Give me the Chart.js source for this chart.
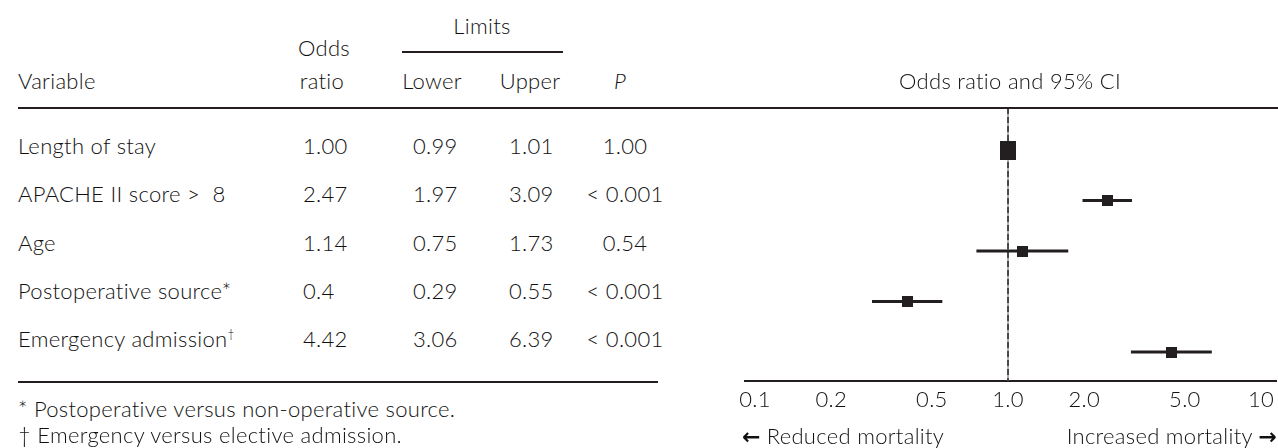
<!DOCTYPE html>
<html>
<head>
<meta charset="utf-8">
<script src="https://cdn.jsdelivr.net/npm/chart.js@4/dist/chart.umd.min.js"></script>
<style>
  html, body { margin:0; padding:0; background:#fff; }
  body { width:1278px; height:448px; position:relative; overflow:hidden;
         font-family: Lato, "Noto Sans", sans-serif; font-size:22px; font-weight:300;
         letter-spacing:0.3px; color:#111; }
  .t { position:absolute; line-height:24px; height:24px; white-space:nowrap; }
  .c { transform: translateX(-50%); }
  .hl { position:absolute; height:2px; background:#231f20; }
  .arr { font-family:"DejaVu Sans", sans-serif; font-weight:bold; font-size:22px; letter-spacing:0; }
  sup { font-size:12px; vertical-align: 9px; line-height:0; }
  #c { position:absolute; left:720px; top:0; }
</style>
</head>
<body>
<canvas id="c" width="563" height="448"></canvas>
<script>
// ---- data ----
const variables   = ["Length of stay", "APACHE II score >\u00a0 8", "Age", "Postoperative source*", "Emergency admission"];
const superscripts = ["", "", "", "", "\u2020"];
const oddsLabels  = ["1.00", "2.47", "1.14", "0.4", "4.42"];
const lowerLabels = ["0.99", "1.97", "0.75", "0.29", "3.06"];
const upperLabels = ["1.01", "3.09", "1.73", "0.55", "6.39"];
const pLabels     = ["1.00", "< 0.001", "0.54", "< 0.001", "< 0.001"];
const tickValues  = [0.1, 0.2, 0.5, 1, 2, 5, 10];
const tickLabels  = ["0.1", "0.2", "0.5", "1.0", "2.0", "5.0", "10"];
const footnotes   = ["* Postoperative versus non-operative source.", "\u2020 Emergency versus elective admission."];

const oddsRatio = oddsLabels.map(Number);
const lower = lowerLabels.map(Number);
const upper = upperLabels.map(Number);

// ---- table (HTML text) ----
function addText(html, x, yCenter, cls, extra) {
  const d = document.createElement('div');
  d.className = 't ' + (cls || '');
  d.style.left = x + 'px';
  d.style.top = (yCenter - 13) + 'px';
  if (extra) Object.assign(d.style, extra);
  d.innerHTML = html;
  document.body.appendChild(d);
  return d;
}
function addLine(x1, x2, y) {
  const d = document.createElement('div');
  d.className = 'hl';
  d.style.left = x1 + 'px';
  d.style.width = (x2 - x1) + 'px';
  d.style.top = (y - 1) + 'px';
  document.body.appendChild(d);
}

// headers
addText('Limits', 482, 27, 'c');
addLine(402, 563, 52);
addText('Odds', 324, 49, 'c');
addText('Variable', 18, 82);
addText('ratio', 322, 82, 'c');
addText('Lower', 432, 82, 'c');
addText('Upper', 530, 82, 'c');
addText('P', 620, 82, 'c', {fontStyle:'italic'});
addText('Odds ratio and 95% CI', 1010, 82, 'c');
addLine(18, 1278, 108);

// rows
variables.forEach((v, i) => {
  const y = 147 + i * 48.3;
  addText(v + (superscripts[i] ? '<sup>' + superscripts[i] + '</sup>' : ''), 18, y);
  addText(oddsLabels[i], 303, y);
  addText(lowerLabels[i], 413, y);
  addText(upperLabels[i], 509, y);
  addText(pLabels[i], 625, y, 'c');
});
addLine(18, 658, 382);
addText(footnotes[0], 18, 410);
addText(footnotes[1], 18, 436);

addText('<span class="arr">\u2190</span> Reduced mortality', 742, 437);
addText('Increased mortality <span class="arr">\u2192</span>', 1277, 437, '', {transform:'translateX(-100%)'});

// ---- forest plot (Chart.js) ----
function boxCanvas(w, h) {
  const cv = document.createElement('canvas');
  cv.width = w; cv.height = h;
  const cx = cv.getContext('2d');
  cx.fillStyle = '#231f20';
  cx.fillRect(0, 0, w, h);
  return cv;
}
const bigBox = boxCanvas(16, 19);
const smallBox = boxCanvas(11, 11);

const rows = variables.map((_, i) => i + 1);
const yMin = 0.168, yMax = 5.574;
const ink = '#231f20';

const datasets = [];
datasets.push({
  type: 'scatter',
  data: rows.map((r, i) => ({x: oddsRatio[i], y: r})),
  pointStyle: rows.map((r, i) => i === 0 ? bigBox : smallBox),
  pointRadius: 6,
  order: 0
});
rows.forEach((r, i) => {
  datasets.push({
    type: 'line',
    data: [{x: lower[i], y: r}, {x: upper[i], y: r}],
    borderColor: ink, borderWidth: 3, pointRadius: 0, borderCapStyle: 'butt',
    order: 1
  });
});
datasets.push({
  type: 'line',
  data: [{x: 1, y: yMin}, {x: 1, y: yMax}],
  borderColor: '#333', borderWidth: 1.6, borderDash: [6, 3], pointRadius: 0,
  order: 2
});
datasets.push({
  type: 'line',
  data: [{x: 1, y: yMin}, {x: 1, y: yMax}],
  borderColor: '#9a9a9a', borderWidth: 1.6, pointRadius: 0,
  order: 3
});

new Chart(document.getElementById('c'), {
  type: 'scatter',
  data: { datasets },
  options: {
    responsive: false,
    animation: false,
    events: [],
    layout: { padding: { left: 25, right: 0, top: 108, bottom: 37 } },
    plugins: { legend: { display: false }, tooltip: { enabled: false } },
    scales: {
      x: {
        type: 'logarithmic',
        min: 0.0913,
        max: 11.46,
        grid: { display: false, drawTicks: false },
        border: { display: true, color: ink, width: 2 },
        afterBuildTicks: (s) => { s.ticks = tickValues.map(v => ({ value: v })); },
        afterFit: (s) => { s.height = 30; s.paddingLeft = 0; s.paddingRight = 0; },
        ticks: {
          autoSkip: false, maxRotation: 0, padding: 6,
          color: '#111',
          font: { family: 'Lato', size: 22, weight: '300' },
          callback: (v, i) => tickLabels[i]
        }
      },
      y: {
        type: 'linear', display: false, reverse: true,
        min: yMin, max: yMax
      }
    }
  }
});
</script>
</body>
</html>
